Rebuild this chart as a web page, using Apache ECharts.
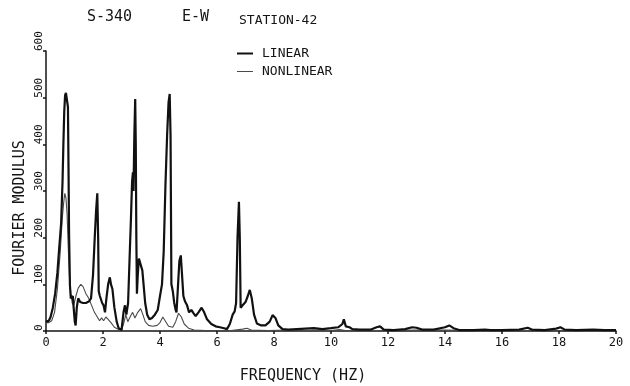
<!DOCTYPE html>
<html>
<head>
<meta charset="utf-8">
<title>S-340 E-W STATION-42</title>
<script src="https://cdn.jsdelivr.net/npm/echarts@6/dist/echarts.min.js"></script>
<style>
  html, body { margin: 0; padding: 0; background: #fff; }
  #chart { width: 630px; height: 386px; }
</style>
</head>
<body>
<div id="chart"></div>
<script>
// Fourier modulus spectra, station 42, E-W component
const linearFreq = [
  0.00, 0.10, 0.16, 0.24, 0.32, 0.40, 0.46, 0.53, 0.58, 0.61, 0.64, 0.67, 0.70, 0.75, 0.77, 0.79,
  0.81, 0.84, 0.87, 0.91, 0.94, 0.97, 1.01, 1.04, 1.08, 1.13, 1.20, 1.30, 1.40, 1.50, 1.58, 1.65,
  1.71, 1.76, 1.80, 1.83, 1.85, 1.89, 1.93, 1.97, 2.02, 2.07, 2.12, 2.18, 2.24, 2.28, 2.33, 2.40,
  2.48, 2.55, 2.65, 2.72, 2.77, 2.82, 2.88, 2.93, 2.98, 3.02, 3.05, 3.07, 3.10, 3.13, 3.15, 3.17,
  3.19, 3.22, 3.26, 3.32, 3.38, 3.43, 3.48, 3.55, 3.63, 3.72, 3.82, 3.92, 4.00, 4.07, 4.13, 4.19,
  4.25, 4.30, 4.34, 4.37, 4.40, 4.45, 4.50, 4.55, 4.58, 4.63, 4.68, 4.73, 4.77, 4.82, 4.88, 4.95,
  5.02, 5.10, 5.18, 5.25, 5.35, 5.46, 5.55, 5.65, 5.80, 5.95, 6.10, 6.25, 6.35, 6.45, 6.55, 6.62,
  6.67, 6.72, 6.77, 6.80, 6.83, 6.90, 7.00, 7.08, 7.15, 7.22, 7.30, 7.40, 7.55, 7.70, 7.85, 7.95,
  8.05, 8.15, 8.30, 8.50, 8.80, 9.10, 9.40, 9.70, 10.00, 10.25, 10.40, 10.45, 10.52, 10.65, 10.75, 11.00,
  11.40, 11.60, 11.72, 11.85, 12.20, 12.60, 12.85, 13.00, 13.20, 13.60, 14.00, 14.15, 14.30, 14.50, 15.00, 15.40,
  15.60, 16.00, 16.60, 16.90, 17.05, 17.50, 17.90, 18.05, 18.20, 18.60, 19.20, 19.60, 20.00
];
const linearAmp = [
  20, 22, 30, 50, 80, 125, 175, 230, 320, 400, 470, 505, 510, 513, 480, 350,
  206, 98, 70, 68, 75, 50, 20, 12, 50, 70, 62, 60, 60, 63, 70, 120,
  200, 260, 295, 200, 85, 75, 78, 60, 55, 40, 70, 100, 115, 100, 90, 50,
  20, 6, 2, 40, 55, 35, 60, 150, 240, 320, 340, 300, 420, 497, 400, 200,
  80, 120, 155, 158, 130, 95, 60, 35, 25, 28, 35, 45, 75, 100, 170, 310,
  420, 490, 508, 420, 100, 85, 60, 45, 40, 95, 150, 162, 160, 75, 63, 55,
  40, 45, 38, 32, 40, 50, 40, 25, 15, 10, 8, 6, 4, 15, 35, 42,
  60, 200, 277, 200, 50, 55, 62, 75, 88, 70, 35, 16, 12, 12, 20, 34,
  28, 12, 4, 3, 4, 5, 6, 4, 6, 8, 15, 25, 10, 8, 4, 3,
  3, 8, 10, 3, 2, 4, 8, 7, 3, 3, 8, 12, 6, 2, 2, 3,
  2, 2, 3, 7, 3, 2, 5, 8, 3, 2, 3, 2, 2
];

const nonlinearFreq = [
  0.00, 0.10, 0.20, 0.30, 0.40, 0.50, 0.57, 0.62, 0.66, 0.70, 0.74, 0.78, 0.82, 0.87, 0.92, 0.97,
  1.05, 1.13, 1.22, 1.30, 1.40, 1.50, 1.60, 1.70, 1.80, 1.88, 1.95, 2.02, 2.10, 2.18, 2.28, 2.40,
  2.55, 2.65, 2.72, 2.80, 2.87, 2.95, 3.04, 3.12, 3.22, 3.32, 3.40, 3.48, 3.60, 3.75, 3.90, 4.00,
  4.10, 4.18, 4.30, 4.45, 4.55, 4.65, 4.75, 4.85, 5.00, 5.20, 5.60, 6.00, 6.50, 6.90, 7.05, 7.20,
  7.80, 8.50, 9.00, 9.50, 10.00, 10.30, 10.50, 11.00, 12.00, 13.00, 14.00, 15.00, 16.00, 17.00, 18.00, 19.00,
  20.00
];
const nonlinearAmp = [
  18, 18, 22, 40, 90, 170, 240, 275, 295, 285, 250, 180, 120, 80, 60, 55,
  75, 92, 100, 95, 80, 70, 55, 40, 30, 22, 28, 22, 30, 25, 18, 8,
  3, 2, 15, 35, 20, 30, 40, 28, 40, 48, 35, 20, 12, 10, 12, 18,
  30, 22, 10, 8, 20, 38, 30, 15, 6, 2, 1, 1, 1, 4, 6, 2,
  1, 2, 1, 2, 1, 3, 1, 1, 1, 2, 2, 1, 1, 1, 1, 1,
  1
];

const freqTicks = { min: 0, max: 20, step: 2 };
const modulusTicks = { min: 0, max: 600, step: 100 };

const plotFont = '"DejaVu Sans Mono", monospace';
const ink = '#151515';

function pairs(xs, ys) {
  return xs.map((x, i) => [x, ys[i]]);
}

const chart = echarts.init(document.getElementById('chart'), null, { renderer: 'canvas' });

chart.setOption({
  backgroundColor: '#ffffff',
  animation: false,
  title: [
    { text: 'S-340', left: 87, top: 10, padding: 0, textStyle: { fontFamily: plotFont, fontSize: 15, fontWeight: 'normal', color: ink } },
    { text: 'E-W', left: 182, top: 10, padding: 0, textStyle: { fontFamily: plotFont, fontSize: 15, fontWeight: 'normal', color: ink } },
    { text: 'STATION-42', left: 239, top: 14, padding: 0, textStyle: { fontFamily: plotFont, fontSize: 13, fontWeight: 'normal', color: ink } }
  ],
  legend: [
    {
      data: ['LINEAR'], left: 232, top: 42, icon: 'rect', itemWidth: 16, itemHeight: 2,
      textStyle: { fontFamily: plotFont, fontSize: 13, color: ink, padding: [0, 0, 0, 4] }
    },
    {
      data: ['NONLINEAR'], left: 232, top: 60, icon: 'rect', itemWidth: 16, itemHeight: 1,
      textStyle: { fontFamily: plotFont, fontSize: 13, color: ink, padding: [0, 0, 0, 4] }
    }
  ],
  grid: { left: 46, right: 14, top: 51, bottom: 55 },
  xAxis: {
    type: 'value',
    min: freqTicks.min, max: freqTicks.max, interval: freqTicks.step,
    axisLine: { show: true, lineStyle: { color: ink, width: 1.5 } },
    axisTick: { show: true, length: 3, lineStyle: { color: ink, width: 1.5 } },
    axisLabel: { fontFamily: plotFont, fontSize: 12, color: ink, margin: 6 },
    splitLine: { show: false }
  },
  yAxis: {
    type: 'value',
    min: modulusTicks.min, max: modulusTicks.max, interval: modulusTicks.step,
    axisLine: { show: true, lineStyle: { color: ink, width: 1.5 } },
    axisTick: { show: true, length: 3, lineStyle: { color: ink, width: 1.5 } },
    axisLabel: {
      fontFamily: plotFont, fontSize: 11, color: ink, margin: 7,
      rotate: 90, align: 'left', verticalAlign: 'middle'
    },
    splitLine: { show: false }
  },
  graphic: [
    {
      type: 'text', x: 20, y: 208, rotation: Math.PI / 2,
      style: { text: 'FOURIER MODULUS', fontFamily: plotFont, fontSize: 15, fill: ink, align: 'center', verticalAlign: 'middle' }
    },
    {
      type: 'text', x: 303, y: 376,
      style: { text: 'FREQUENCY (HZ)', fontFamily: plotFont, fontSize: 15, fill: ink, align: 'center', verticalAlign: 'middle' }
    }
  ],
  series: [
    {
      name: 'LINEAR', type: 'line', data: pairs(linearFreq, linearAmp),
      showSymbol: false, symbol: 'none', smooth: false, z: 3,
      itemStyle: { color: '#111111' },
      lineStyle: { color: '#111111', width: 2.2 }
    },
    {
      name: 'NONLINEAR', type: 'line', data: pairs(nonlinearFreq, nonlinearAmp),
      showSymbol: false, symbol: 'none', smooth: false, z: 2,
      itemStyle: { color: '#4a4a4a' },
      lineStyle: { color: '#4a4a4a', width: 1.1 }
    }
  ]
});
</script>
</body>
</html>
